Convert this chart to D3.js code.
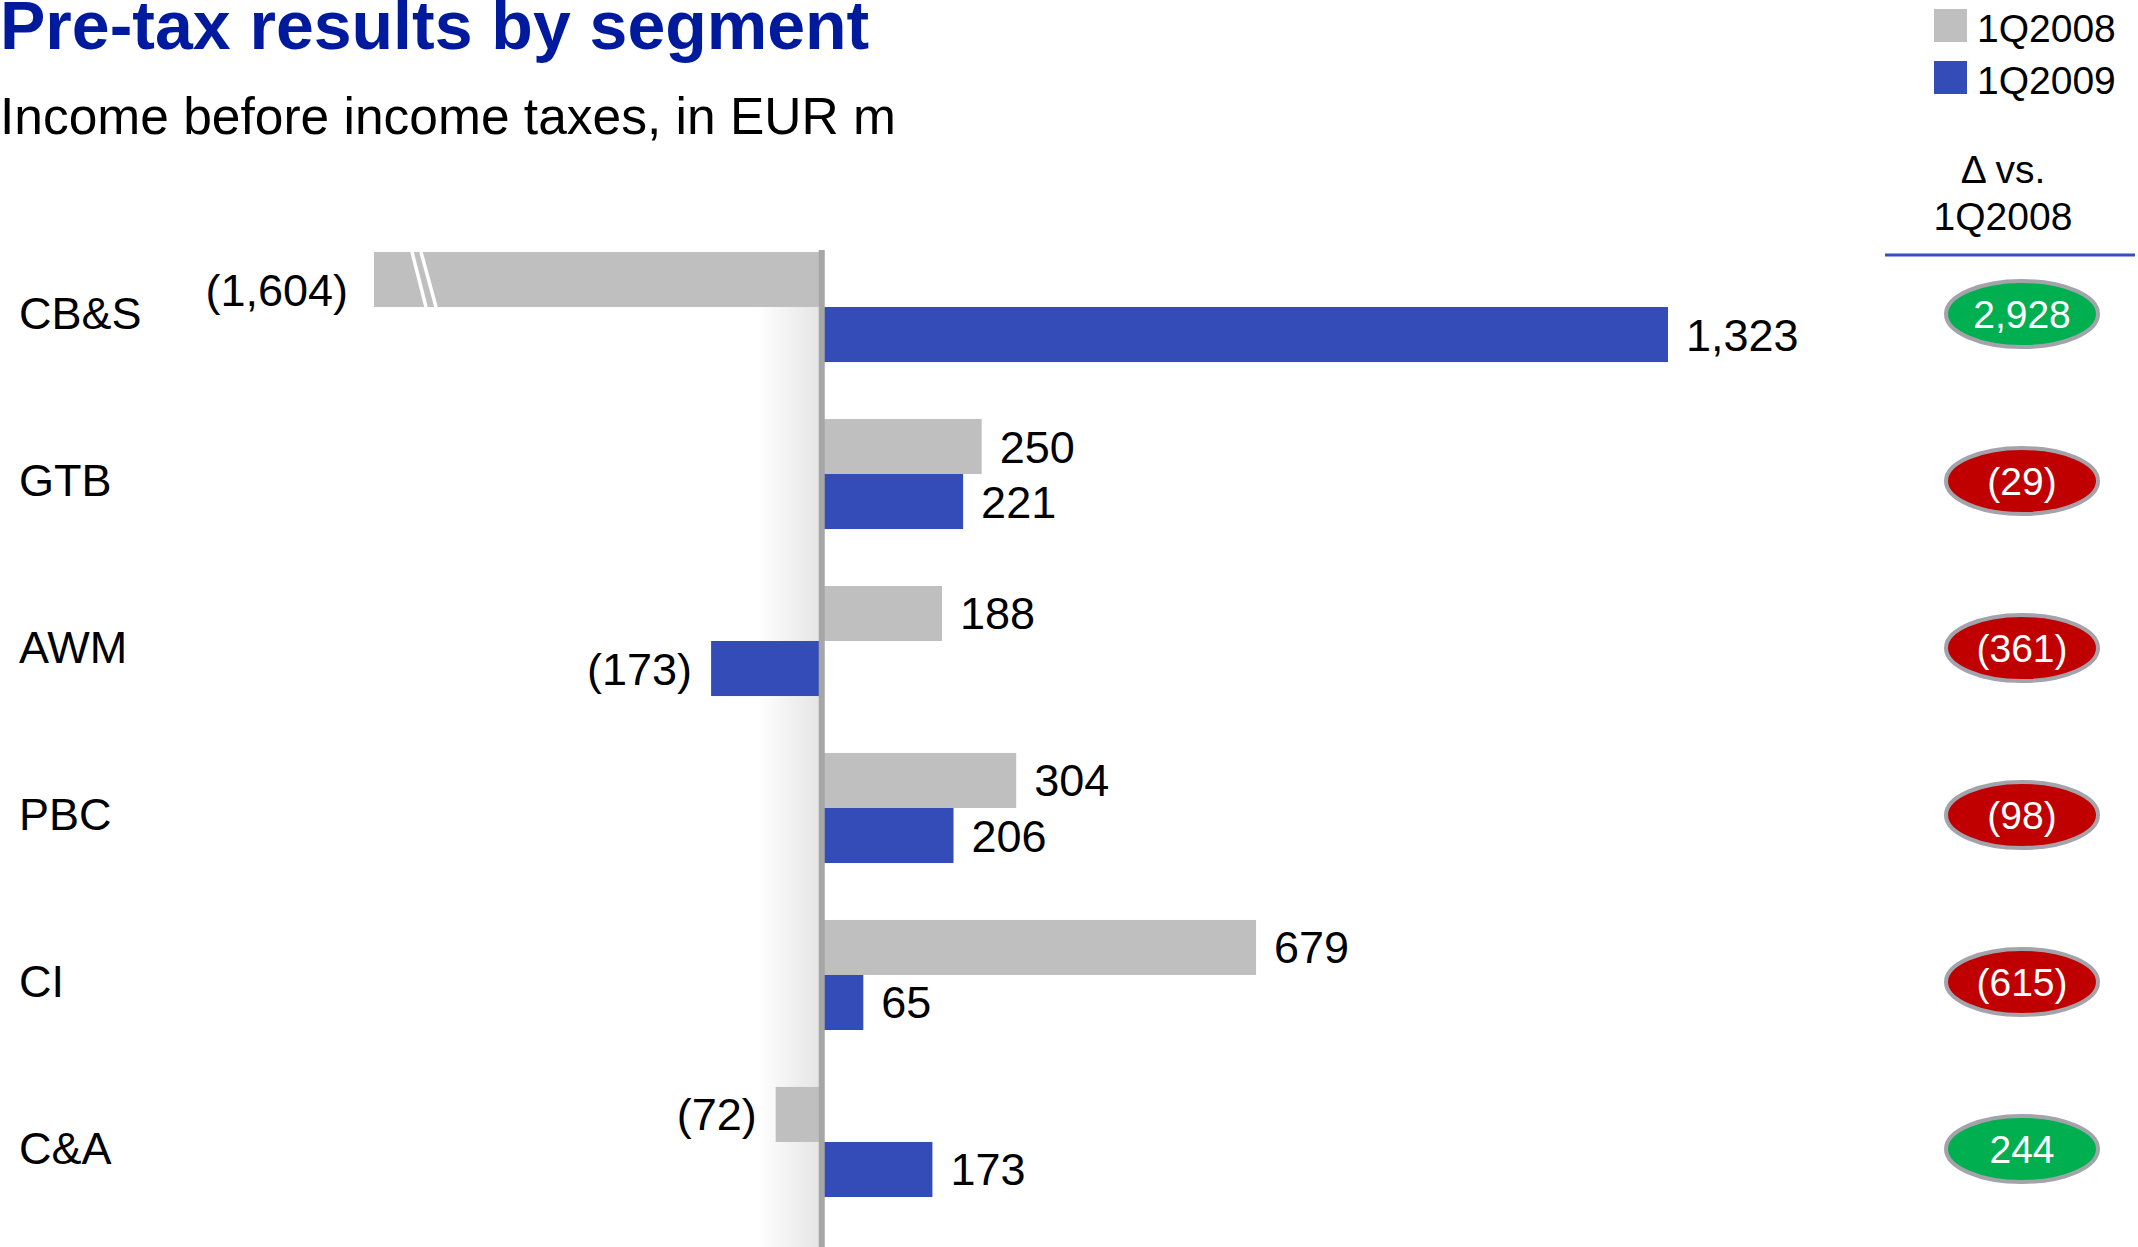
<!DOCTYPE html>
<html>
<head>
<meta charset="utf-8">
<script src="https://cdn.jsdelivr.net/npm/d3@7"></script>
<style>
  html, body { margin: 0; padding: 0; background: #ffffff; }
  svg { display: block; font-family: "Liberation Sans", Arial, sans-serif; }
</style>
</head>
<body>
<svg id="chart" width="2138" height="1247"></svg>
<script>
// ---- data ----
const categories = ["CB&S", "GTB", "AWM", "PBC", "CI", "C&A"];
const seriesNames = ["1Q2008", "1Q2009"];
const q2008 = [-1604, 250, 188, 304, 679, -72];
const q2009 = [1323, 221, -173, 206, 65, 173];
const deltaVs2008 = [2928, -29, -361, -98, -615, 244];
const titleText = "Pre-tax results by segment";
const subtitleText = "Income before income taxes, in EUR m";
const deltaHeader = ["\u0394 vs.", "1Q2008"];

// ---- styles ----
const colors = { "1Q2008": "#BFBFBF", "1Q2009": "#344CB7" };
const W = 2138, H = 1247;

const svg = d3.select("#chart");
const defs = svg.append("defs");
const grad = defs.append("linearGradient").attr("id", "shade")
  .attr("x1", "0%").attr("x2", "100%").attr("y1", "0%").attr("y2", "0%");
grad.append("stop").attr("offset", "0%").attr("stop-color", "#ffffff");
grad.append("stop").attr("offset", "100%").attr("stop-color", "#E4E4E4");

// ---- scales ----
const x = d3.scaleLinear().domain([-700, 1323]).range([374, 1668]).clamp(true);
const y = d3.scaleBand().domain(categories).range([252, 1197]).paddingInner(0.341).paddingOuter(0);
const ySub = d3.scaleBand().domain(seriesNames).range([0, y.bandwidth()]);

const fmt = v => v < 0 ? "(" + d3.format(",")(-v) + ")" : d3.format(",")(v);

// ---- title ----
svg.append("text").attr("x", 0).attr("y", 49)
  .attr("font-size", 68).attr("font-weight", "bold").attr("fill", "#001A9E")
  .text(titleText);
svg.append("text").attr("x", 0).attr("y", 134)
  .attr("font-size", 51.5).attr("fill", "#000")
  .text(subtitleText);

// ---- shading left of zero line ----
const x0 = x(0);
svg.append("rect").attr("x", x0 - 64).attr("y", y(categories[0]))
  .attr("width", 64).attr("height", H - y(categories[0]))
  .attr("fill", "url(#shade)");

// ---- bars ----
const rows = [];
categories.forEach((c, i) => {
  rows.push({ cat: c, series: "1Q2008", value: q2008[i] });
  rows.push({ cat: c, series: "1Q2009", value: q2009[i] });
});

const bars = svg.append("g");
rows.forEach(d => {
  const top = y(d.cat) + ySub(d.series);
  const h = ySub.bandwidth();
  const xv = x(d.value);
  const left = Math.min(xv, x0), right = Math.max(xv, x0);
  bars.append("rect").attr("x", left).attr("y", top)
    .attr("width", right - left).attr("height", h)
    .attr("fill", colors[d.series]);
  const clipped = d.value < x.domain()[0];
  if (clipped) {
    // break marks
    [[38, 52], [47, 62]].forEach(([a, b]) => {
      bars.append("line")
        .attr("x1", left + a).attr("y1", top)
        .attr("x2", left + b).attr("y2", top + h)
        .attr("stroke", "#ffffff").attr("stroke-width", 3.5);
    });
  }
  const cy = top + h / 2;
  bars.append("text")
    .attr("x", d.value >= 0 ? xv + 18 : left - (clipped ? 26 : 19))
    .attr("y", cy + 16 + (clipped ? 10 : 0))
    .attr("text-anchor", d.value >= 0 ? "start" : "end")
    .attr("font-size", 45).attr("fill", "#000")
    .text(fmt(d.value));
});

// ---- zero line ----
svg.append("line").attr("x1", x0).attr("x2", x0)
  .attr("y1", y(categories[0]) - 2).attr("y2", H)
  .attr("stroke", "#A6A6A6").attr("stroke-width", 6);

// ---- category labels (axis) ----
const yAxis = svg.append("g").attr("transform", "translate(19,0)")
  .call(d3.axisLeft(y).tickSize(0).tickPadding(0));
yAxis.select(".domain").remove();
yAxis.selectAll(".tick").attr("transform", c => `translate(0,${y(c) + y.bandwidth() / 2 + 22})`);
yAxis.selectAll("text")
  .attr("text-anchor", "start").attr("dy", null).attr("x", 0).attr("y", 0)
  .attr("font-size", 45).attr("font-family", "Liberation Sans, Arial, sans-serif")
  .attr("fill", "#000");

// ---- legend ----
const legend = svg.append("g");
seriesNames.forEach((s, i) => {
  legend.append("rect").attr("x", 1934).attr("y", 9 + i * 52)
    .attr("width", 33).attr("height", 33).attr("fill", colors[s]);
  legend.append("text").attr("x", 1977).attr("y", 42 + i * 52)
    .attr("font-size", 39).attr("fill", "#000").text(s);
});

// ---- delta column ----
deltaHeader.forEach((t, i) => {
  svg.append("text").attr("x", 2003).attr("y", 183 + i * 47)
    .attr("text-anchor", "middle").attr("font-size", 39).attr("fill", "#000").text(t);
});
svg.append("line").attr("x1", 1885).attr("x2", 2135).attr("y1", 255).attr("y2", 255)
  .attr("stroke", "#3350BE").attr("stroke-width", 3);

const dg = svg.append("g");
categories.forEach((c, i) => {
  const cy = y(c) + y.bandwidth() / 2 + 7;
  const v = deltaVs2008[i];
  dg.append("ellipse").attr("cx", 2022).attr("cy", cy).attr("rx", 76).attr("ry", 33)
    .attr("fill", v >= 0 ? "#00B050" : "#C00000")
    .attr("stroke", "#A3A3AB").attr("stroke-width", 4);
  dg.append("text").attr("x", 2022).attr("y", cy + 14)
    .attr("text-anchor", "middle").attr("font-size", 39).attr("fill", "#ffffff")
    .text(fmt(v));
});
</script>
</body>
</html>
